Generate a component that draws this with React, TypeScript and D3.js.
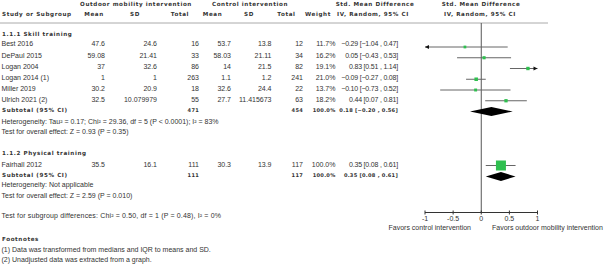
import React from "react";
import * as d3 from "d3";

const studies = ["Best 2016", "DePaul 2015", "Logan 2004", "Logan 2014 (1)", "Miller 2019", "Ulrich 2021 (2)", "Fairhall 2012"];
const meanOut = ["47.6", "59.08", "37", "1", "30.2", "32.5", "35.5"];
const sdOut = ["24.6", "21.41", "32.6", "1", "20.9", "10.079979", "16.1"];
const nOut = ["16", "33", "86", "263", "18", "55", "111"];
const meanCtl = ["53.7", "58.03", "14", "1.1", "32.6", "27.7", "30.3"];
const sdCtl = ["13.8", "21.11", "21.5", "1.2", "24.4", "11.415673", "13.9"];
const nCtl = ["12", "34", "82", "241", "22", "63", "117"];
const weights = [11.7, 16.2, 19.1, 21.0, 13.7, 18.2, 100.0];
const smd = [-0.29, 0.05, 0.83, -0.09, -0.1, 0.44, 0.35];
const ciLo = [-1.04, -0.43, 0.51, -0.27, -0.73, 0.07, 0.08];
const ciHi = [0.47, 0.53, 1.14, 0.08, 0.52, 0.81, 0.61];

const subgroupNames = ["1.1.1 Skill training", "1.1.2 Physical training"];
const subNOut = ["471", "111"];
const subNCtl = ["454", "117"];
const subSmd = [0.18, 0.35];
const subLo = [-0.2, 0.08];
const subHi = [0.56, 0.61];
const heterogeneity = [
  "Heterogeneity: Tau² = 0.17; Chi² = 29.36, df = 5 (P < 0.0001); I² = 83%",
  "Heterogeneity: Not applicable",
];
const overallTests = ["Test for overall effect: Z = 0.93 (P = 0.35)", "Test for overall effect: Z = 2.59 (P = 0.010)"];
const subgroupDiff = "Test for subgroup differences: Chi² = 0.50, df = 1 (P = 0.48), I² = 0%";
const footnotes = ["(1) Data was transformed from medians and IQR to means and SD.", "(2) Unadjusted data was extracted from a graph."];
const ticks = [-1, -0.5, 0, 0.5, 1];
const favorsLeft = "Favors control intervention";
const favorsRight = "Favors outdoor mobility intervention";

const fmt2 = (v: number) => d3.format(".2f")(v);
const ciText = (e: number, l: number, h: number) => `${fmt2(e)} [${fmt2(l)} , ${fmt2(h)}]`;

const TXT = "#333";
const GREEN = "#2fbf4f";
const BODY: React.CSSProperties = { fontFamily: "'Liberation Sans', Arial, sans-serif", fontSize: 7 };
const BOLD: React.CSSProperties = { fontFamily: "'DejaVu Sans', Verdana, sans-serif", fontSize: 5.6, fontWeight: "bold", letterSpacing: 0.6 };
const BOLDNUM: React.CSSProperties = { fontFamily: "'DejaVu Sans', Verdana, sans-serif", fontSize: 5.1, fontWeight: "bold", letterSpacing: 0.25 };

export default function App() {
  const x = d3.scaleLinear().domain([-1, 1]).range([425, 537.5]);
  const side = d3.scaleLinear().domain([0, 100]).range([1.8, 10]);
  const textY1 = d3.scaleLinear().domain([0, 6]).range([44, 110.5]);
  const markY1 = d3.scaleLinear().domain([0, 6]).range([47, 111.5]);
  const textYs = [0, 1, 2, 3, 4, 5].map((i) => textY1(i)).concat([165]);
  const markYs = [0, 1, 2, 3, 4, 5].map((i) => markY1(i)).concat([165.5]);
  const subTextY = [textY1(6), 175];
  const subMarkY = [markY1(6), 176.5];
  const groupHeadY = [34, 153.5];
  const hetY = [121.7, 185];
  const testY = [132, 195.5];
  const axisY = 212.5;

  const cols = [
    { x: 105, vals: meanOut },
    { x: 157, vals: sdOut },
    { x: 199, vals: nOut },
    { x: 231, vals: meanCtl },
    { x: 271.5, vals: sdCtl },
    { x: 303, vals: nCtl },
  ];

  const T = (props: any) => <text dy="0.35em" fill={TXT} style={BODY} {...props} />;
  const B = (props: any) => <text dy="0.35em" fill={TXT} style={BOLD} {...props} />;
  const BN = (props: any) => <text dy="0.35em" fill={TXT} style={BOLDNUM} {...props} />;

  return (
    <svg width={606} height={264} style={{ position: "absolute", left: 0, top: 0, background: "#fff" }}>
      <B x={136} y={4.5} textAnchor="middle">Outdoor mobility intervention</B>
      <B x={250} y={4.5} textAnchor="middle">Control intervention</B>
      <B x={375} y={4.5} textAnchor="middle">Std. Mean Difference</B>
      <B x={481} y={4.5} textAnchor="middle">Std. Mean Difference</B>
      <B x={2} y={14.5}>Study or Subgroup</B>
      <B x={94} y={14.5} textAnchor="middle">Mean</B>
      <B x={135} y={14.5} textAnchor="middle">SD</B>
      <B x={180} y={14.5} textAnchor="middle">Total</B>
      <B x={212.5} y={14.5} textAnchor="middle">Mean</B>
      <B x={249} y={14.5} textAnchor="middle">SD</B>
      <B x={286.5} y={14.5} textAnchor="middle">Total</B>
      <B x={318} y={14.5} textAnchor="middle">Weight</B>
      <B x={373} y={14.5} textAnchor="middle">IV, Random, 95% CI</B>
      <B x={480} y={14.5} textAnchor="middle">IV, Random, 95% CI</B>
      <line x1={0} x2={548} y1={23} y2={23} stroke="#aaa" strokeWidth={1} />

      <line x1={x(0)} x2={x(0)} y1={23} y2={axisY} stroke="#555" strokeWidth={1} />

      {subgroupNames.map((g, i) => (
        <B key={g} x={2} y={groupHeadY[i]}>{g}</B>
      ))}

      {studies.map((s, i) => {
        const ty = textYs[i];
        const my = markYs[i];
        const lo = Math.max(ciLo[i], -1);
        const hi = Math.min(ciHi[i], 1);
        const sz = side(weights[i]);
        return (
          <g key={s}>
            <T x={1.5} y={ty}>{s}</T>
            {cols.map((c, j) => (
              <T key={j} x={c.x} y={ty} textAnchor="end">{c.vals[i]}</T>
            ))}
            <T x={335.5} y={ty} textAnchor="end">{d3.format(".1f")(weights[i]) + "%"}</T>
            <T x={398} y={ty} textAnchor="end" style={{ ...BODY, letterSpacing: -0.2 }}>{ciText(smd[i], ciLo[i], ciHi[i])}</T>
            <line x1={x(lo)} x2={x(hi)} y1={my} y2={my} stroke="#666" strokeWidth={1} />
            {ciLo[i] < -1 && <path d={`M${x(-1)},${my} l4,-2 l0,4 Z`} fill="#111" />}
            {ciHi[i] > 1 && <path d={`M${x(1)},${my} l-4,-2 l0,4 Z`} fill="#111" />}
            <rect x={x(smd[i]) - sz / 2} y={my - sz / 2} width={sz} height={sz} fill={GREEN} />
          </g>
        );
      })}

      {subgroupNames.map((g, i) => {
        const ty = subTextY[i];
        const my = subMarkY[i];
        return (
          <g key={"sub" + g}>
            <B x={2} y={ty}>Subtotal (95% CI)</B>
            <BN x={199} y={ty} textAnchor="end">{subNOut[i]}</BN>
            <BN x={303} y={ty} textAnchor="end">{subNCtl[i]}</BN>
            <BN x={335.5} y={ty} textAnchor="end">100.0%</BN>
            <BN x={398} y={ty} textAnchor="end">{ciText(subSmd[i], subLo[i], subHi[i])}</BN>
            <path
              d={`M${x(subLo[i])},${my} L${x(subSmd[i])},${my - 4.5} L${x(subHi[i])},${my} L${x(subSmd[i])},${my + 4.5} Z`}
              fill="#000"
            />
            <T x={1.5} y={hetY[i]}>{heterogeneity[i]}</T>
            <T x={1.5} y={testY[i]}>{overallTests[i]}</T>
          </g>
        );
      })}

      <T x={1.5} y={215.7} style={{ ...BODY, letterSpacing: 0.15 }}>{subgroupDiff}</T>
      <B x={2} y={239}>Footnotes</B>
      {footnotes.map((f, i) => (
        <T key={f} x={1.5} y={250 + i * 9.7}>{f}</T>
      ))}

      <line x1={x(-1)} x2={x(1)} y1={axisY} y2={axisY} stroke="#333" strokeWidth={1} />
      {ticks.map((t) => (
        <g key={t}>
          <line x1={x(t)} x2={x(t)} y1={axisY - 2} y2={axisY + 2} stroke="#333" strokeWidth={1} />
          <T x={x(t)} y={axisY + 6.5} textAnchor="middle">{String(t)}</T>
        </g>
      ))}
      <T x={471} y={228} textAnchor="end">{favorsLeft}</T>
      <T x={492} y={228}>{favorsRight}</T>
    </svg>
  );
}
